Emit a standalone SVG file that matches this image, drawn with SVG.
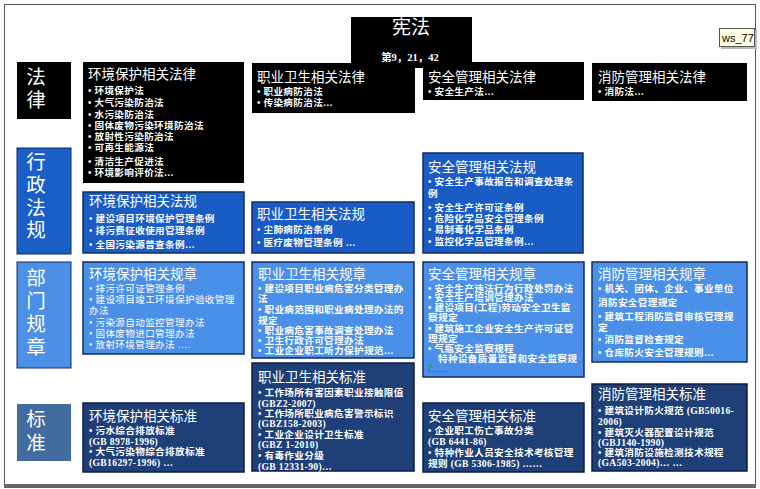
<svg xmlns="http://www.w3.org/2000/svg" width="760" height="489" viewBox="0 0 760 489">
<style>
text{font-family:"Noto Sans CJK SC","Noto Sans",sans-serif;fill:#fff}
.lab{font-size:19.5px;writing-mode:vertical-rl}
.ttl{font-size:13.5px}
.it{font-family:"Liberation Serif","Noto Sans CJK SC",serif;font-size:9.6px;letter-spacing:0.35px;font-weight:bold}
.itn{font-family:"Liberation Serif","Noto Sans CJK SC",serif;font-size:9.6px;letter-spacing:0.35px}
.blk{fill:#000}
.reg{fill:#1a5cc6;stroke:#142c5e;stroke-width:1.5}
.rul{fill:#4a90e8;stroke:#142c5e;stroke-width:1.5}
.std{fill:#1f3f78;stroke:#101e40;stroke-width:1.5}
.lreg{fill:#1a5fc8;stroke:#142c5e;stroke-width:1}
.lrul{fill:#4b8fe6;stroke:#142c5e;stroke-width:1}
.lstd{fill:#426c9f}
</style>
<rect x="0" y="0" width="760" height="489" fill="#fff"/>
<rect x="4.5" y="4.5" width="751" height="481" fill="none" stroke="#555" stroke-width="1"/>
<rect x="4" y="484" width="752" height="4" fill="#666"/>

<g id="connectors"/>

<!-- row labels -->
<g id="label-law"><rect class="blk" x="17" y="62" width="54" height="57"/>
<text class="lab" x="36" y="67" style="letter-spacing:3.5px">法律</text></g>
<g id="label-reg"><rect class="lreg" x="17" y="148" width="54" height="106"/>
<text class="lab" x="36" y="152" style="letter-spacing:3.2px">行政法规</text></g>
<g id="label-rule"><rect class="lrul" x="17" y="262" width="54" height="106"/>
<text class="lab" x="36" y="268" style="letter-spacing:3.4px">部门规章</text></g>
<g id="label-std"><rect class="lstd" x="17" y="404" width="54" height="57"/>
<text class="lab" x="36" y="409" style="letter-spacing:4.5px">标准</text></g>

<!-- laws -->
<g id="env-law"><rect class="blk" x="83" y="62" width="161" height="121"/>
<text class="ttl" x="88" y="79">环境保护相关法律</text>
<text class="it"><tspan x="88" y="94">• 环境保护法</tspan><tspan x="88" y="106">• 大气污染防治法</tspan><tspan x="88" y="118">• 水污染防治法</tspan><tspan x="88" y="129">• 固体废物污染环境防治法</tspan><tspan x="88" y="140">• 放射性污染防治法</tspan><tspan x="88" y="151">• 可再生能源法</tspan><tspan x="88" y="165">• 清洁生产促进法</tspan><tspan x="88" y="176">•  环境影响评价法…</tspan></text></g>
<g id="oh-law"><rect class="blk" x="252" y="63" width="163" height="50"/>
<text class="ttl" x="257" y="82">职业卫生相关法律</text>
<text class="it"><tspan x="257" y="95">• 职业病防治法</tspan><tspan x="257" y="106">• 传染病防治法…</tspan></text></g>
<g id="safety-law"><rect class="blk" x="423" y="62" width="161" height="38"/>
<text class="ttl" x="428" y="81.5">安全管理相关法律</text>
<text class="it" x="428" y="94.5">• 安全生产法…</text></g>
<g id="fire-law"><rect class="blk" x="592" y="63" width="155" height="38"/>
<text class="ttl" x="598" y="82">消防管理相关法律</text>
<text class="it" x="598" y="95">• 消防法…</text></g>

<!-- constitution -->
<g id="constitution"><rect class="blk" x="351" y="17" width="121" height="51"/>
<text x="411" y="34" style="font-size:19px;text-anchor:middle">宪法</text>
<text x="410" y="61" style="font-family:'Liberation Serif','Noto Sans CJK SC',serif;font-size:10.5px;font-weight:bold;text-anchor:middle">第9，21，42</text></g>

<!-- regulations -->
<g id="env-reg"><rect class="reg" x="83" y="192" width="161" height="61"/>
<text class="ttl" x="89" y="206">环境保护相关法规</text>
<text class="it"><tspan x="89" y="222">•  建设项目环境保护管理条例</tspan><tspan x="89" y="234">•  排污费征收使用管理条例</tspan><tspan x="89" y="248">•  全国污染源普查条例…</tspan></text></g>
<g id="oh-reg"><rect class="reg" x="252" y="202" width="162" height="51"/>
<text class="ttl" x="257" y="219">职业卫生相关法规</text>
<text class="it"><tspan x="257" y="233">•  尘肺病防治条例</tspan><tspan x="257" y="246">•  医疗废物管理条例 …</tspan></text></g>
<g id="safety-reg"><rect class="reg" x="423" y="153" width="160" height="100"/>
<text class="ttl" x="428" y="172">安全管理相关法规</text>
<text class="it"><tspan x="428" y="185">• 安全生产事故报告和调查处理条</tspan><tspan x="428" y="197">例</tspan><tspan x="428" y="211">• 安全生产许可证条例</tspan><tspan x="428" y="222">• 危险化学品安全管理条例</tspan><tspan x="428" y="233">• 易制毒化学品条例</tspan><tspan x="428" y="245">• 监控化学品管理条例…</tspan></text></g>

<!-- department rules -->
<g id="env-rule"><rect class="rul" x="83" y="262" width="161" height="92"/>
<text class="ttl" x="89" y="279">环境保护相关规章</text>
<text class="itn"><tspan x="89" y="292">•  排污许可证管理条例</tspan><tspan x="89" y="302.5">•  建设项目竣工环境保护验收管理</tspan><tspan x="89" y="314">办法</tspan><tspan x="89" y="326">•  污染源自动监控管理办法</tspan><tspan x="89" y="337">•  固体废物进口管理办法</tspan><tspan x="89" y="348">•  放射环境管理办法 ….</tspan></text></g>
<g id="oh-rule"><rect class="rul" x="252" y="262" width="162" height="96"/>
<text class="ttl" x="258" y="278.5">职业卫生相关规章</text>
<text class="it"><tspan x="258" y="291.5">•  建设项目职业病危害分类管理办</tspan><tspan x="258" y="302">法</tspan><tspan x="258" y="313">•  职业病范围和职业病处理办法的</tspan><tspan x="258" y="324">规定</tspan><tspan x="258" y="334">•  职业病危害事故调查处理办法</tspan><tspan x="258" y="344">•  卫生行政许可管理办法</tspan><tspan x="258" y="354">•  工业企业职工听力保护规范…</tspan></text></g>
<g id="safety-rule"><rect class="rul" x="423" y="262" width="161" height="115"/>
<text class="ttl" x="428" y="278.5">安全管理相关规章</text>
<text class="it"><tspan x="428" y="291.5">•  安全生产违法行为行政处罚办法</tspan><tspan x="428" y="301">•  安全生产培训管理办法</tspan><tspan x="428" y="311">•  建设项目(工程)劳动安全卫生监</tspan><tspan x="428" y="321">察规定</tspan><tspan x="428" y="331.5">•  建筑施工企业安全生产许可证管</tspan><tspan x="428" y="341.5">理规定</tspan><tspan x="428" y="351.5">•  气瓶安全监察规程</tspan><tspan x="438" y="361.5">特种设备质量监督和安全监察规</tspan></text>
<path d="M428 364 l2 4 l2 -4 M429 368 v3 M428 371.5 h19" fill="none" stroke="#2a9a3a" stroke-width="1"/></g>
<g id="fire-rule"><rect class="rul" x="592" y="262" width="155" height="100"/>
<text class="ttl" x="598" y="279">消防管理相关规章</text>
<text class="it"><tspan x="598" y="292">• 机关、团体、企业、事业单位</tspan><tspan x="598" y="306">消防安全管理规定</tspan><tspan x="598" y="320">• 建筑工程消防监督审核管理规</tspan><tspan x="598" y="331">定</tspan><tspan x="598" y="343">• 消防监督检查规定</tspan><tspan x="598" y="356">• 仓库防火安全管理规则…</tspan></text></g>

<!-- standards -->
<g id="env-std"><rect class="std" x="83" y="403" width="161" height="69"/>
<text class="ttl" x="89" y="421">环境保护相关标准</text>
<text class="it"><tspan x="89" y="434">• 污水综合排放标准</tspan><tspan x="89" y="445">(GB 8978-1996)</tspan><tspan x="89" y="455">• 大气污染物综合排放标准</tspan><tspan x="89" y="466">(GB16297-1996) …</tspan></text></g>
<g id="oh-std"><rect class="std" x="252" y="363" width="162" height="108"/>
<text class="ttl" x="258" y="382">职业卫生相关标准</text>
<text class="it"><tspan x="258" y="396">• 工作场所有害因素职业接触限值</tspan><tspan x="258" y="407">(GBZ2-2007)</tspan><tspan x="258" y="417">• 工作场所职业病危害警示标识</tspan><tspan x="258" y="427">(GBZ158-2003)</tspan><tspan x="258" y="438">• 工业企业设计卫生标准</tspan><tspan x="258" y="448">(GBZ 1-2010)</tspan><tspan x="258" y="459">• 有毒作业分级</tspan><tspan x="258" y="470">(GB 12331-90)…</tspan></text></g>
<g id="safety-std"><rect class="std" x="423" y="403" width="161" height="69"/>
<text class="ttl" x="428" y="421">安全管理相关标准</text>
<text class="it"><tspan x="428" y="434">• 企业职工伤亡事故分类</tspan><tspan x="428" y="445">(GB 6441-86)</tspan><tspan x="428" y="456">• 特种作业人员安全技术考核管理</tspan><tspan x="428" y="467">规则 (GB 5306-1985) ……</tspan></text></g>
<g id="fire-std"><rect class="std" x="592" y="384" width="155" height="87"/>
<text class="ttl" x="598" y="399">消防管理相关标准</text>
<text class="it"><tspan x="598" y="414">• 建筑设计防火规范 (GB50016-</tspan><tspan x="598" y="425">2006)</tspan><tspan x="598" y="436">• 建筑灭火器配置设计规范</tspan><tspan x="598" y="446">(GBJ140-1990)</tspan><tspan x="598" y="456">• 建筑消防设施检测技术规程</tspan><tspan x="598" y="466">(GA503-2004)… …</tspan></text></g>

<g id="tooltip"><rect x="721" y="30" width="36" height="19" fill="#bbb"/>
<rect x="719.5" y="28.5" width="35" height="18" fill="#ffffe1" stroke="#555" stroke-width="1"/>
<text x="722" y="42" style="font-family:'Liberation Sans',sans-serif;font-size:11px;fill:#000">ws_77</text></g>
</svg>
